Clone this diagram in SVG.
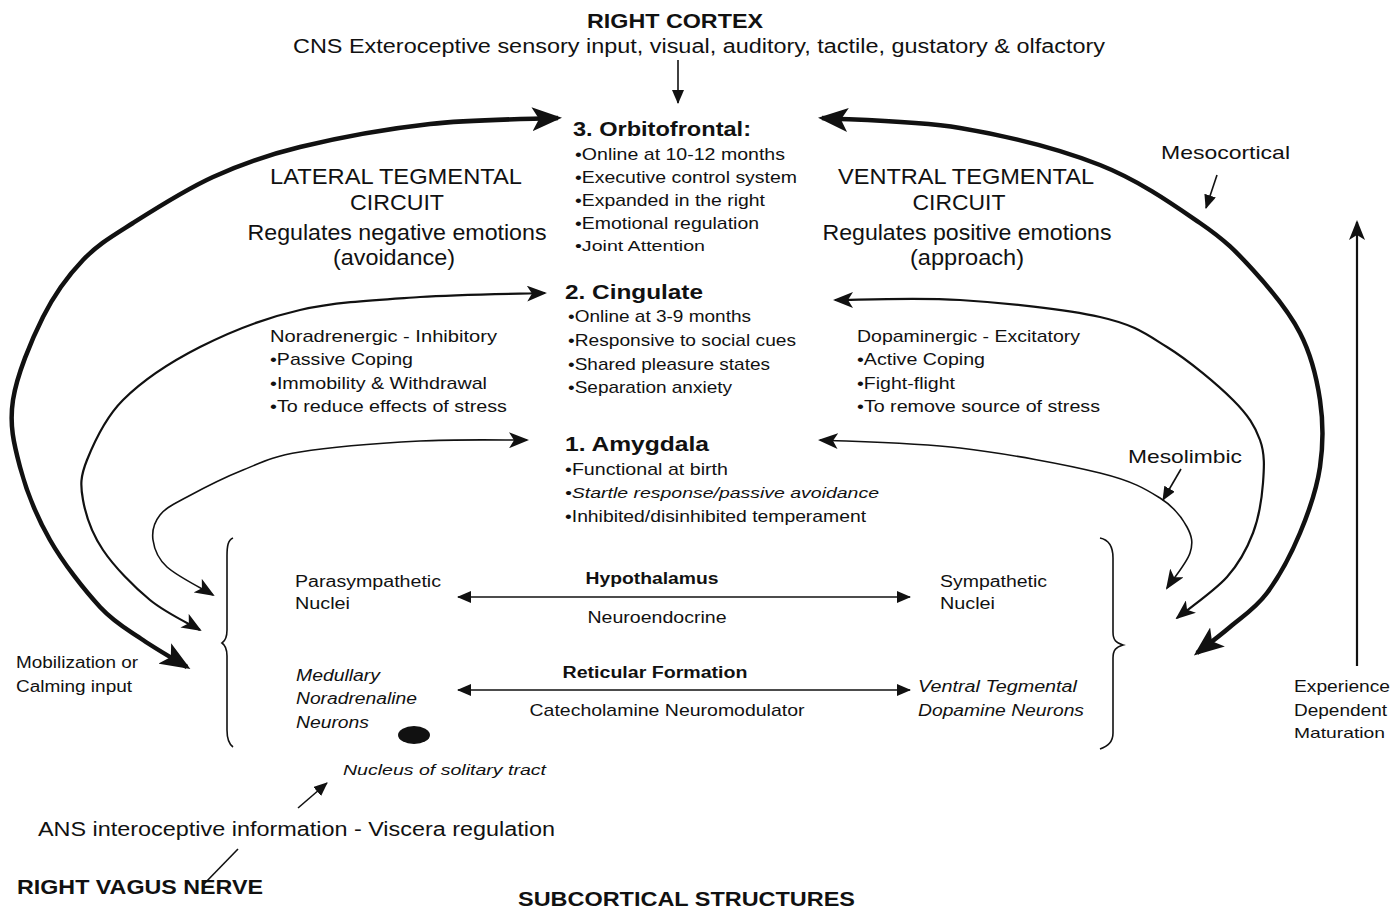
<svg xmlns="http://www.w3.org/2000/svg" width="1393" height="911" viewBox="0 0 1393 911">
<style>
text{font-family:"Liberation Sans",Arial,sans-serif;fill:#111}
.b{font-weight:bold}
.i{font-style:italic}
.big{font-size:20px}
.h{font-size:22px}
.m{font-size:17px}
.s{font-size:16px}
.c{text-anchor:middle}
.thick{fill:none;stroke:#111;stroke-width:4.5}
.mid{fill:none;stroke:#111;stroke-width:2.2}
.thin{fill:none;stroke:#111;stroke-width:1.6}
</style>
<defs>
<marker id="bigHead" markerUnits="userSpaceOnUse" markerWidth="30" markerHeight="24" refX="26" refY="12" orient="auto-start-reverse" viewBox="0 0 30 24">
<path d="M0,0 L30,12 L0,24 L7,12 Z" fill="#111"/>
</marker>
<marker id="midHead" markerUnits="userSpaceOnUse" markerWidth="20" markerHeight="16" refX="18" refY="8" orient="auto-start-reverse" viewBox="0 0 20 16">
<path d="M0,0 L20,8 L0,16 L5,8 Z" fill="#111"/>
</marker>
<marker id="smallHead" markerUnits="userSpaceOnUse" markerWidth="14" markerHeight="12" refX="13" refY="6" orient="auto-start-reverse" viewBox="0 0 14 12">
<path d="M0,0 L14,6 L0,12 Z" fill="#111"/>
</marker>
</defs>

<g id="connectors">
<line x1="678" y1="60" x2="678" y2="103" class="thin" marker-end="url(#smallHead)"/>
<!-- left circuit: orbitofrontal (thick) -->
<path class="thick" d="M187,667 C179.7,662.5 157.5,650 143,640 C128.5,630 115.5,623.7 100,607 C84.5,590.3 63.3,563.3 50,540 C36.7,516.7 26.2,490.3 20,467 C13.8,443.7 9.2,425 13,400 C16.8,375 31.3,340.3 43,317 C54.7,293.7 68,275.7 83,260 C98,244.3 111.3,236.8 133,223 C154.7,209.2 185.2,189.7 213,177 C240.8,164.3 263.8,155.8 300,147 C336.2,138.2 387,128.8 430,124 C473,119.2 536.7,119 558,118" marker-start="url(#bigHead)" marker-end="url(#bigHead)"/>
<!-- left circuit: cingulate -->
<path class="mid" d="M200,630 C191.7,625 166.2,613.3 150,600 C133.8,586.7 114.2,566.7 103,550 C91.8,533.3 85.7,515 83,500 C80.3,485 80.3,476.7 87,460 C93.7,443.3 104.2,418.8 123,400 C141.8,381.2 170.5,362 200,347 C229.5,332 263.3,318.3 300,310 C336.7,301.7 379.2,299.8 420,297 C460.8,294.2 524.2,293.7 545,293" marker-start="url(#midHead)" marker-end="url(#midHead)"/>
<!-- left circuit: amygdala -->
<path class="thin" d="M213,595 C205.3,590.3 177,576.2 167,567 C157,557.8 154.2,548.7 153,540 C151.8,531.3 154.3,522.2 160,515 C165.7,507.8 173.2,504.5 187,497 C200.8,489.5 224.2,477.5 243,470 C261.8,462.5 270.5,456.8 300,452 C329.5,447.2 382.2,443 420,441 C457.8,439 509.2,440.2 527,440" marker-start="url(#midHead)" marker-end="url(#midHead)"/>
<!-- right circuit: orbitofrontal (thick) -->
<path class="thick" d="M1197,653 C1202.5,648.7 1218.3,637 1230,627 C1241.7,617 1255.3,608.7 1267,593 C1278.7,577.3 1291.2,554 1300,533 C1308.8,512 1316.7,489.2 1320,467 C1323.3,444.8 1323.3,422.3 1320,400 C1316.7,377.7 1311.2,354.7 1300,333 C1288.8,311.3 1269.7,288.3 1253,270 C1236.3,251.7 1225.5,240.5 1200,223 C1174.5,205.5 1140,180.8 1100,165 C1060,149.2 1006.3,135.8 960,128 C913.7,120.2 845,119.7 822,118" marker-start="url(#bigHead)" marker-end="url(#bigHead)"/>
<!-- right circuit: cingulate -->
<path class="mid" d="M1177,618 C1185.3,611.2 1214.3,591.2 1227,577 C1239.7,562.8 1247,548.7 1253,533 C1259,517.3 1261.8,498.5 1263,483 C1264.2,467.5 1265,453.8 1260,440 C1255,426.2 1248.5,415.5 1233,400 C1217.5,384.5 1189.2,360.8 1167,347 C1144.8,333.2 1134.5,324.8 1100,317 C1065.5,309.2 1004.2,302.8 960,300 C915.8,297.2 855.8,300 835,300" marker-start="url(#midHead)" marker-end="url(#midHead)"/>
<!-- right circuit: amygdala -->
<path class="thin" d="M1167,588 C1170.8,582.2 1186.7,563.2 1190,553 C1193.3,542.8 1192,536.2 1187,527 C1182,517.8 1174.5,507 1160,498 C1145.5,489 1133.3,481.3 1100,473 C1066.7,464.7 1006.7,453.5 960,448 C913.3,442.5 843.3,441.3 820,440" marker-start="url(#midHead)" marker-end="url(#midHead)"/>
<!-- label pointers -->
<line x1="1217" y1="175" x2="1206" y2="208" class="thin" marker-end="url(#smallHead)"/>
<line x1="1181" y1="469" x2="1163" y2="500" class="thin" marker-end="url(#smallHead)"/>
<!-- subcortical arrows -->
<line x1="458" y1="597" x2="910" y2="597" class="thin" marker-start="url(#smallHead)" marker-end="url(#smallHead)"/>
<line x1="458" y1="690" x2="910" y2="690" class="thin" marker-start="url(#smallHead)" marker-end="url(#smallHead)"/>
<!-- maturation -->
<line x1="1357" y1="666" x2="1357" y2="222" class="mid" marker-end="url(#midHead)"/>
<!-- vagus -->
<line x1="298" y1="808" x2="327" y2="783" class="thin" marker-end="url(#smallHead)"/>
<line x1="238" y1="849" x2="204" y2="884" class="thin"/>
</g>

<g id="braces">
<path class="thin" d="M233,538 C228,540 227,546 227,556 L227,630 C227,638 225,641 222,643 C225,645 227,648 227,656 L227,730 C227,740 229,744 233,747"/>
<path class="thin" d="M1100,538 C1110,540 1113,548 1113,558 L1113,632 C1113,640 1116,643 1123,645 C1116,647 1113,650 1113,658 L1113,733 C1113,742 1108,746 1100,749"/>
<ellipse cx="414" cy="735" rx="16" ry="9" fill="#111"/>
</g>

<g id="cortex">
<text x="675" y="28" class="b big c" textLength="176" lengthAdjust="spacingAndGlyphs">RIGHT CORTEX</text>
<text x="293" y="53" class="big" textLength="812" lengthAdjust="spacingAndGlyphs">CNS Exteroceptive sensory input, visual, auditory, tactile, gustatory &amp; olfactory</text>
</g>

<g id="orbitofrontal">
<text x="573" y="136" class="b" font-size="21" textLength="178" lengthAdjust="spacingAndGlyphs">3. Orbitofrontal:</text>
<text x="575" y="160" class="m" textLength="210" lengthAdjust="spacingAndGlyphs">•Online at 10-12 months</text>
<text x="575" y="183" class="m" textLength="222" lengthAdjust="spacingAndGlyphs">•Executive control system</text>
<text x="575" y="206" class="m" textLength="190" lengthAdjust="spacingAndGlyphs">•Expanded in the right</text>
<text x="575" y="229" class="m" textLength="184" lengthAdjust="spacingAndGlyphs">•Emotional regulation</text>
<text x="575" y="251" font-size="15" textLength="130" lengthAdjust="spacingAndGlyphs">•Joint Attention</text>
</g>

<g id="lateral">
<text x="396" y="184" class="h c" textLength="252" lengthAdjust="spacingAndGlyphs">LATERAL TEGMENTAL</text>
<text x="397" y="210" class="h c" textLength="94" lengthAdjust="spacingAndGlyphs">CIRCUIT</text>
<text x="397" y="240" class="h c" textLength="299" lengthAdjust="spacingAndGlyphs">Regulates negative emotions</text>
<text x="394" y="265" class="h c" textLength="122" lengthAdjust="spacingAndGlyphs">(avoidance)</text>
</g>

<g id="ventral">
<text x="966" y="184" class="h c" textLength="256" lengthAdjust="spacingAndGlyphs">VENTRAL TEGMENTAL</text>
<text x="959" y="210" class="h c" textLength="93" lengthAdjust="spacingAndGlyphs">CIRCUIT</text>
<text x="967" y="240" class="h c" textLength="289" lengthAdjust="spacingAndGlyphs">Regulates positive emotions</text>
<text x="967" y="265" class="h c" textLength="114" lengthAdjust="spacingAndGlyphs">(approach)</text>
</g>

<g id="mesocortical">
<text x="1161" y="159" font-size="19" textLength="129" lengthAdjust="spacingAndGlyphs">Mesocortical</text>
</g>

<g id="cingulate">
<text x="565" y="299" class="b big" textLength="138" lengthAdjust="spacingAndGlyphs">2.  Cingulate</text>
<text x="568" y="322" class="m" textLength="183" lengthAdjust="spacingAndGlyphs">•Online at 3-9 months</text>
<text x="568" y="346" class="m" textLength="228" lengthAdjust="spacingAndGlyphs">•Responsive to social cues</text>
<text x="568" y="370" class="m" textLength="202" lengthAdjust="spacingAndGlyphs">•Shared pleasure states</text>
<text x="568" y="393" class="m" textLength="164" lengthAdjust="spacingAndGlyphs">•Separation anxiety</text>
</g>

<g id="noradrenergic">
<text x="270" y="342" class="m" textLength="227" lengthAdjust="spacingAndGlyphs">Noradrenergic  - Inhibitory</text>
<text x="270" y="365" class="m" textLength="143" lengthAdjust="spacingAndGlyphs">•Passive Coping</text>
<text x="270" y="389" class="m" textLength="217" lengthAdjust="spacingAndGlyphs">•Immobility &amp; Withdrawal</text>
<text x="270" y="412" class="m" textLength="237" lengthAdjust="spacingAndGlyphs">•To reduce effects of stress</text>
</g>

<g id="dopaminergic">
<text x="857" y="342" class="m" textLength="223" lengthAdjust="spacingAndGlyphs">Dopaminergic - Excitatory</text>
<text x="857" y="365" class="m" textLength="128" lengthAdjust="spacingAndGlyphs">•Active Coping</text>
<text x="857" y="389" class="m" textLength="98" lengthAdjust="spacingAndGlyphs">•Fight-flight</text>
<text x="857" y="412" class="m" textLength="243" lengthAdjust="spacingAndGlyphs">•To remove source of stress</text>
</g>

<g id="amygdala">
<text x="565" y="451" class="b big" textLength="144" lengthAdjust="spacingAndGlyphs">1.  Amygdala</text>
<text x="565" y="475" class="m" textLength="163" lengthAdjust="spacingAndGlyphs">•Functional at birth</text>
<text x="565" y="498" class="i" font-size="15" textLength="314" lengthAdjust="spacingAndGlyphs">•Startle response/passive avoidance</text>
<text x="565" y="522" class="m" textLength="301" lengthAdjust="spacingAndGlyphs">•Inhibited/disinhibited temperament</text>
</g>

<g id="mesolimbic">
<text x="1128" y="463" font-size="19" textLength="114" lengthAdjust="spacingAndGlyphs">Mesolimbic</text>
</g>

<g id="parasympathetic">
<text x="295" y="587" class="s" textLength="146" lengthAdjust="spacingAndGlyphs">Parasympathetic</text>
<text x="295" y="609" class="s" textLength="55" lengthAdjust="spacingAndGlyphs">Nuclei</text>
</g>

<g id="hypothalamus">
<text x="652" y="584" class="b s c" textLength="133" lengthAdjust="spacingAndGlyphs">Hypothalamus</text>
<text x="657" y="623" class="s c" textLength="139" lengthAdjust="spacingAndGlyphs">Neuroendocrine</text>
</g>

<g id="sympathetic">
<text x="940" y="587" class="s" textLength="107" lengthAdjust="spacingAndGlyphs">Sympathetic</text>
<text x="940" y="609" class="s" textLength="55" lengthAdjust="spacingAndGlyphs">Nuclei</text>
</g>

<g id="medullary">
<text x="296" y="681" class="i s" textLength="84" lengthAdjust="spacingAndGlyphs">Medullary</text>
<text x="296" y="704" class="i s" textLength="121" lengthAdjust="spacingAndGlyphs">Noradrenaline</text>
<text x="296" y="728" class="i s" textLength="73" lengthAdjust="spacingAndGlyphs">Neurons</text>
</g>

<g id="reticular">
<text x="655" y="678" class="b s c" textLength="185" lengthAdjust="spacingAndGlyphs">Reticular Formation</text>
<text x="667" y="716" class="m c" textLength="275" lengthAdjust="spacingAndGlyphs">Catecholamine Neuromodulator</text>
</g>

<g id="ventral-tegmental">
<text x="918" y="692" class="i s" textLength="159" lengthAdjust="spacingAndGlyphs">Ventral Tegmental</text>
<text x="918" y="716" class="i s" textLength="166" lengthAdjust="spacingAndGlyphs">Dopamine Neurons</text>
</g>

<g id="solitary">
<text x="343" y="775" class="i" font-size="15" textLength="203" lengthAdjust="spacingAndGlyphs">Nucleus of solitary tract</text>
</g>

<g id="mobilization">
<text x="16" y="668" class="s" textLength="122" lengthAdjust="spacingAndGlyphs">Mobilization or</text>
<text x="16" y="692" class="s" textLength="116" lengthAdjust="spacingAndGlyphs">Calming input</text>
</g>

<g id="maturation">
<text x="1294" y="692" class="s" textLength="96" lengthAdjust="spacingAndGlyphs">Experience</text>
<text x="1294" y="716" class="s" textLength="93" lengthAdjust="spacingAndGlyphs">Dependent</text>
<text x="1294" y="738" font-size="15" textLength="91" lengthAdjust="spacingAndGlyphs">Maturation</text>
</g>

<g id="ans">
<text x="38" y="836" class="big" textLength="517" lengthAdjust="spacingAndGlyphs">ANS interoceptive information - Viscera regulation</text>
</g>

<g id="vagus">
<text x="17" y="894" class="b big" textLength="246" lengthAdjust="spacingAndGlyphs">RIGHT VAGUS NERVE</text>
</g>

<g id="subcortical">
<text x="518" y="906" class="b big" textLength="337" lengthAdjust="spacingAndGlyphs">SUBCORTICAL STRUCTURES</text>
</g>
</svg>
